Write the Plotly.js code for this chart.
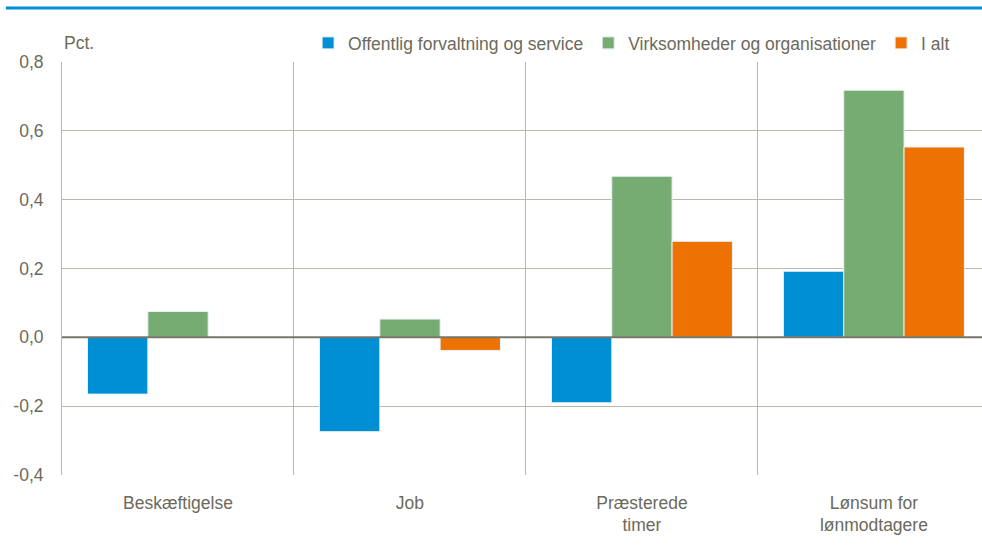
<!DOCTYPE html>
<html><head><meta charset="utf-8">
<script src="https://cdn.plot.ly/plotly-3.0.1.min.js"></script>
<style>html,body{margin:0;padding:0;background:#fff}#chart{width:982px;height:546px}</style>
</head><body><div id="chart"></div>
<script>
const categories = ["Beskæftigelse", "Job", "Præsterede<br>timer", "Lønsum for<br>lønmodtagere"];
const seriesNames = ["Offentlig forvaltning og service", "Virksomheder og organisationer", "I alt"];
const offentlig = [-0.165, -0.274, -0.190, 0.192];
const virksomheder = [0.075, 0.053, 0.468, 0.718];
const iAlt = [null, -0.038, 0.279, 0.553];
const colors = ["#008FD5", "#76AB71", "#EE7203"];
const yTicks = [-0.4, -0.2, 0, 0.2, 0.4, 0.6, 0.8];
const yTickText = yTicks.map(v => v.toFixed(1).replace(".", ","));

const font = "'Liberation Sans', Arial, sans-serif";
const textColor = "#6b6a5c";
const gridColor = "#b9b9aa";
const fs = 17.5;

const data = [offentlig, virksomheder, iAlt].map((vals, i) => ({
  type: "bar", x: categories, y: vals, name: seriesNames[i],
  marker: {color: colors[i], line: {color: "#e8f0f4", width: 1}},
  hoverinfo: "skip"
}));

const layout = {
  width: 982, height: 546,
  margin: {l: 62, r: 0, t: 62, b: 71},
  paper_bgcolor: "#fff", plot_bgcolor: "#fff",
  font: {family: font, size: fs, color: textColor},
  barmode: "group", bargap: 0.22, bargroupgap: 0,
  showlegend: true,
  legend: {orientation: "h", x: 0.2675, xanchor: "left", y: 1.046, yanchor: "middle",
           font: {family: font, size: fs, color: textColor}, traceorder: "normal",
           itemwidth: 30, tracegroupgap: 0, bgcolor: "rgba(0,0,0,0)"},
  xaxis: {type: "category", range: [-0.5, 3.466], tickson: "boundaries",
          showgrid: true, gridcolor: gridColor, gridwidth: 1,
          ticks: "", ticklabelstandoff: 15,
          showline: false, zeroline: false,
          tickfont: {family: font, size: fs, color: textColor}},
  yaxis: {range: [-0.4, 0.8], tickvals: yTicks, ticktext: yTickText,
          showgrid: true, gridcolor: gridColor, gridwidth: 1,
          zeroline: false,
          showline: true, linecolor: gridColor, linewidth: 1,
          ticks: "outside", ticklen: 14, tickcolor: "rgba(0,0,0,0)",
          tickfont: {family: font, size: fs, color: textColor}},
  annotations: [{text: "Pct.", xref: "paper", yref: "paper", x: 0, y: 1.045,
                 xanchor: "left", yanchor: "middle", showarrow: false,
                 font: {family: font, size: fs, color: textColor}}],
  shapes: [
    {type: "line", xref: "paper", yref: "paper", x0: -0.061, x1: 1, y0: 1.131, y1: 1.131,
     line: {color: "#008FD5", width: 3}},
    {type: "line", xref: "paper", yref: "y", x0: 0, x1: 1, y0: 0, y1: 0, layer: "above",
     line: {color: "#77766a", width: 2}}
  ]
};
Plotly.newPlot("chart", data, layout, {displayModeBar: false, staticPlot: true});
</script></body></html>
